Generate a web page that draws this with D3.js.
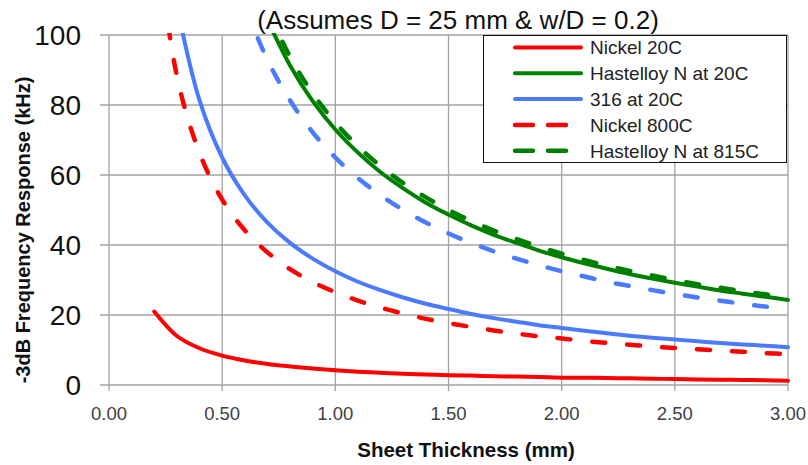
<!DOCTYPE html>
<html>
<head>
<meta charset="utf-8">
<script src="https://cdn.jsdelivr.net/npm/d3@7"></script>
<style>
  html, body { margin: 0; padding: 0; background: #fff; }
  svg { display: block; font-family: "Liberation Sans", Arial, sans-serif; }
</style>
</head>
<body>
<svg id="chart" width="808" height="465"></svg>
<script>
// ---------- data ----------
const thickness = [0.2,0.3,0.4,0.5,0.6,0.7,0.8,0.9,1.0,1.1,1.2,1.3,1.4,1.5,1.6,1.7,1.8,1.9,2.0,2.1,2.2,2.3,2.4,2.5,2.6,2.7,2.8,2.9,3.0];

const nickel20 = [21.0,14.0,10.5,8.4,7.0,6.0,5.3,4.7,4.2,3.8,3.5,3.2,3.0,2.8,2.7,2.5,2.4,2.3,2.1,2.1,2.0,1.9,1.8,1.7,1.6,1.5,1.45,1.35,1.2];
const hastelloy20 = [null,null,null,null,null,104.3,91.3,81.1,73.0,66.4,60.8,56.2,52.1,48.7,45.6,42.9,40.6,38.4,36.5,34.8,33.2,31.7,30.4,29.2,28.1,27.0,26.1,25.2,24.3];
const ss316_20 = [null,108.3,81.3,65.0,54.2,46.4,40.6,36.1,32.5,29.5,27.1,25.0,23.2,21.7,20.3,19.1,18.1,17.1,16.3,15.5,14.8,14.1,13.5,13.0,12.5,12.0,11.6,11.2,10.8];
const nickel800 = [132.5,88.3,66.3,53.0,44.2,37.9,33.1,29.4,26.5,24.1,22.1,20.4,18.9,17.7,16.6,15.6,14.7,13.9,13.3,12.6,12.0,11.5,11.0,10.6,10.2,9.8,9.5,9.1,8.8];
const hastelloy815 = [null,null,null,null,null,107.1,93.8,83.3,75.0,68.2,62.5,57.7,53.6,50.0,46.9,44.1,41.7,39.5,37.5,35.7,34.1,32.6,31.3,30.0,28.8,27.8,26.8,25.9,25.0];
const ss316_800 = [null,null,null,null,108.3,92.9,81.3,72.2,65.0,59.1,54.2,50.0,46.4,43.3,40.6,38.2,36.1,34.2,32.5,31.0,29.5,28.3,27.1,26.0,25.0,24.1,23.2,22.4,21.7];

const seriesNames = ["Nickel 20C","Hastelloy N at 20C","316 at 20C","Nickel 800C","Hastelloy N at 815C",""];
const xTicks = [0,0.5,1.0,1.5,2.0,2.5,3.0];
const yTicks = [0,20,40,60,80,100];
const titleText = "(Assumes D = 25 mm & w/D = 0.2)";
const xTitle = "Sheet Thickness (mm)";
const yTitle = "-3dB Frequency Response (kHz)";

// ---------- styling ----------
const RED = "#ff0000", GREEN = "#008000", BLUE = "#4a7bff";
const series = [
  {name: seriesNames[0], values: nickel20, color: RED, dashed: false, legend: true},
  {name: seriesNames[1], values: hastelloy20, color: GREEN, dashed: false, legend: true},
  {name: seriesNames[2], values: ss316_20, color: BLUE, dashed: false, legend: true},
  {name: seriesNames[3], values: nickel800, color: RED, dashed: true, legend: true},
  {name: seriesNames[4], values: hastelloy815, color: GREEN, dashed: true, legend: true},
  {name: seriesNames[5], values: ss316_800, color: BLUE, dashed: true, legend: false}
];

const svg = d3.select("#chart");
const L = 109, R = 788, T = 35, B = 385;
const x = d3.scaleLinear().domain([0, 3]).range([L, R]);
const y = d3.scaleLinear().domain([0, 100]).range([B, T]);
const gridColor = "#a3a3a3";

// horizontal gridlines + left ticks
svg.append("g").selectAll("line").data(yTicks).join("line")
  .attr("x1", L - 9).attr("x2", R)
  .attr("y1", d => y(d)).attr("y2", d => y(d))
  .attr("stroke", gridColor).attr("stroke-width", 1.3);
// vertical gridlines + bottom ticks
svg.append("g").selectAll("line").data(xTicks).join("line")
  .attr("x1", d => x(d)).attr("x2", d => x(d))
  .attr("y1", T).attr("y2", B + 6)
  .attr("stroke", gridColor).attr("stroke-width", 1.3);

// y tick labels
svg.append("g").selectAll("text").data(yTicks).join("text")
  .attr("x", 81).attr("y", d => y(d)).attr("dy", "0.36em")
  .attr("text-anchor", "end").attr("font-size", 28).attr("fill", "#111")
  .text(d => d);
// x tick labels
svg.append("g").selectAll("text").data(xTicks).join("text")
  .attr("x", d => x(d)).attr("y", 413).attr("dy", "0.36em")
  .attr("text-anchor", "middle").attr("font-size", 18.5).attr("fill", "#404040")
  .text(d => d.toFixed(2));

// clip
svg.append("defs").append("clipPath").attr("id", "plotclip")
  .append("rect").attr("x", L).attr("y", T - 2).attr("width", R - L + 4).attr("height", B - T + 4);

const line = d3.line()
  .defined(d => d[1] !== null)
  .x(d => x(d[0])).y(d => y(d[1]))
  .curve(d3.curveCatmullRom.alpha(0.5));

const gLines = svg.append("g").attr("clip-path", "url(#plotclip)");
series.forEach(s => {
  gLines.append("path")
    .datum(thickness.map((t, i) => [t, s.values[i]]))
    .attr("d", line)
    .attr("fill", "none")
    .attr("stroke", s.color)
    .attr("stroke-width", s.dashed ? 4.5 : 4)
    .attr("stroke-linecap", "round")
    .attr("stroke-linejoin", "round")
    .attr("stroke-dasharray", s.dashed ? "13 22" : null);
});

// title
svg.append("text").attr("x", 458).attr("y", 29).attr("text-anchor", "middle")
  .attr("font-size", 26).attr("fill", "#111").text(titleText);

// axis titles
svg.append("text").attr("x", 466).attr("y", 457).attr("text-anchor", "middle")
  .attr("font-size", 20.5).attr("font-weight", "bold").attr("fill", "#111").text(xTitle);
svg.append("text").attr("transform", "translate(30,230) rotate(-90)")
  .attr("text-anchor", "middle").attr("font-size", 20).attr("font-weight", "bold")
  .attr("fill", "#111").text(yTitle);

// legend
const lg = svg.append("g");
lg.append("rect").attr("x", 483.5).attr("y", 35.5).attr("width", 303).attr("height", 127)
  .attr("fill", "#fff").attr("stroke", "#111").attr("stroke-width", 1);
const legendItems = series.filter(s => s.legend);
legendItems.forEach((s, i) => {
  const yy = 47.5 + i * 25.8;
  if (s.dashed) {
    lg.append("line").attr("x1", 515).attr("x2", 566).attr("y1", yy).attr("y2", yy)
      .attr("stroke", s.color).attr("stroke-width", 4.5).attr("stroke-linecap", "round")
      .attr("stroke-dasharray", "18 15");
  } else {
    lg.append("line").attr("x1", 515).attr("x2", 581).attr("y1", yy).attr("y2", yy)
      .attr("stroke", s.color).attr("stroke-width", 4).attr("stroke-linecap", "round");
  }
  lg.append("text").attr("x", 590).attr("y", yy).attr("dy", "0.36em")
    .attr("font-size", 19).attr("fill", "#222").text(s.name);
});
</script>
</body>
</html>
